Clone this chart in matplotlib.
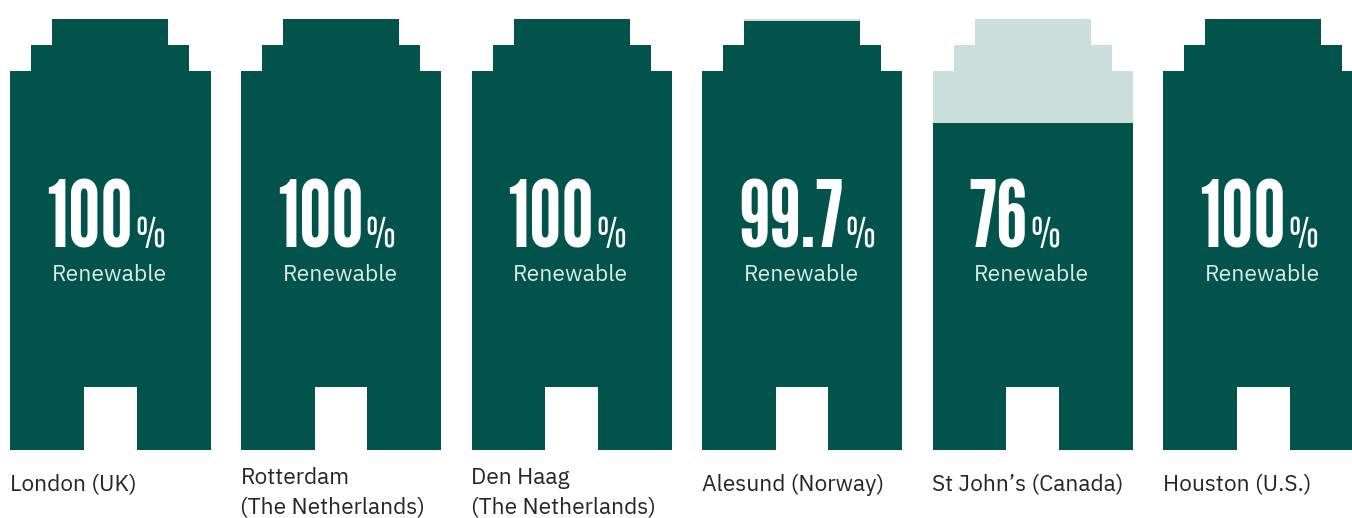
import matplotlib
matplotlib.use("Agg")
import matplotlib.pyplot as plt
from matplotlib.patches import Polygon, Rectangle

# Share of renewable electricity per city
cities = ["London (UK)", "Rotterdam\n(The Netherlands)", "Den Haag\n(The Netherlands)",
          "Alesund (Norway)", "St John\u2019s (Canada)", "Houston (U.S.)"]
renewable_pct = [100, 100, 100, 99.7, 76, 100]
pct_labels = ["100", "100", "100", "99.7", "76", "100"]

DARK = "#02534B"
LIGHT = "#CADEDB"
SUB = "#D8ECE8"
LABEL = "#262626"

W, H = 1352, 518
fig = plt.figure(figsize=(W / 100, H / 100), dpi=100)
ax = fig.add_axes([0, 0, 1, 1])
ax.set_xlim(0, W)
ax.set_ylim(H, 0)
ax.axis("off")

# building outline (pixels, relative to the left edge of each icon)
left0, pitch, bw = 10.3, 230.6, 200.4
top, mid, body, base = 19.3, 45.3, 71.3, 450.0
door_l, door_r, door_top = 73.7, 126.4, 386.5


def outline(x0):
    pts = [(0, base), (0, body), (21, body), (21, mid), (42, mid), (42, top),
           (158, top), (158, mid), (179, mid), (179, body), (bw, body), (bw, base),
           (door_r, base), (door_r, door_top), (door_l, door_top), (door_l, base)]
    return [(x0 + px, py) for px, py in pts]


texts = []
for i, (city, pct, lab) in enumerate(zip(cities, renewable_pct, pct_labels)):
    x0 = left0 + i * pitch
    shape = Polygon(outline(x0), closed=True, facecolor=LIGHT, edgecolor="none", lw=0)
    ax.add_patch(shape)
    level = base - pct / 100.0 * (base - top)
    fill = Rectangle((x0, level), bw, base - level, facecolor=DARK, edgecolor="none", lw=0)
    ax.add_patch(fill)
    fill.set_clip_path(shape)

    num = ax.text(x0 + 36, 247, lab, family="League Gothic", fontsize=66,
                  color="white", ha="left", va="baseline")
    texts.append((num, x0))
    ax.text(x0 + 41.5, 281, "Renewable", family="IBM Plex Sans", weight="light",
            fontsize=16.5, color=SUB, ha="left", va="baseline")

    nlines = city.count("\n") + 1
    ax.text(x0 - 0.5, 474.0 - 6.7 * (nlines - 1), city, family="IBM Plex Sans",
            fontsize=16.4, color=LABEL, ha="left", va="top", linespacing=1.42)

# percent signs sit right after each number
fig.canvas.draw()
r = fig.canvas.get_renderer()
inv = ax.transData.inverted()
for num, x0 in texts:
    bb = num.get_window_extent(r)
    xr = inv.transform((bb.x1, bb.y0))[0]
    ax.text(xr + 2, 247, "%", family="Pathway Gothic One",
            fontsize=31, color="white", ha="left", va="baseline")

fig.savefig("out.png", dpi=100)
